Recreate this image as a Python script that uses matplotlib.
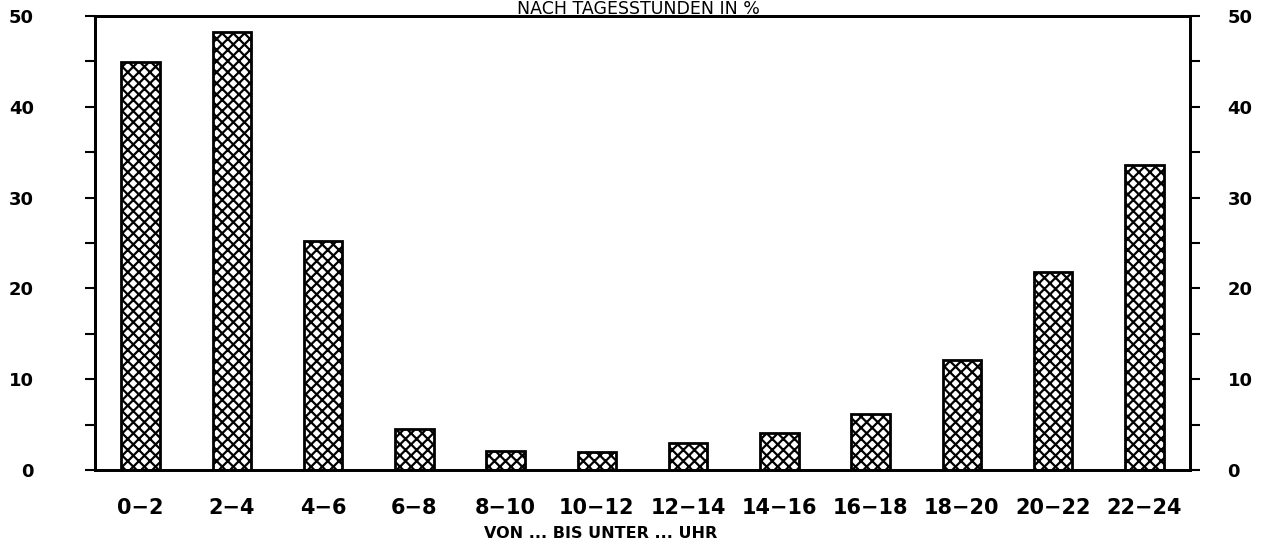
import matplotlib
matplotlib.use("Agg")
import matplotlib.pyplot as plt
from matplotlib.ticker import MultipleLocator

categories = ["0−2", "2−4", "4−6", "6−8", "8−10", "10−12", "12−14",
              "14−16", "16−18", "18−20", "20−22", "22−24"]
values = [44.9, 48.2, 25.2, 4.5, 2.1, 2.0, 3.0, 4.1, 6.2, 12.1, 21.8, 33.6]
yticks = [0, 10, 20, 30, 40, 50]
title = "NACH TAGESSTUNDEN IN %"
xlabel = "VON ... BIS UNTER ... UHR"

plt.rcParams['hatch.linewidth'] = 1.6
plt.rcParams['font.family'] = ['DejaVu Sans']

fig = plt.figure(figsize=(12.69, 5.45), dpi=100)
ax = fig.add_axes([95/1269, 1-470/545, (1190-95)/1269, (470-16)/545])

x = list(range(len(categories)))
ax.bar(x, values, width=0.42, color='white', edgecolor='black',
       linewidth=2, hatch='xxx')

ax.set_xlim(-0.5, len(categories) - 0.5)
ax.set_ylim(0, 50)
ax.set_xticks(x)
ax.set_xticklabels(categories, fontsize=15, fontweight='bold')
ax.tick_params(axis='x', length=0, pad=20)

ax.set_yticks(yticks)
ax.yaxis.set_minor_locator(MultipleLocator(5))
ax.tick_params(axis='y', which='both', direction='out', length=7, width=1.5,
               left=True, right=False, labelleft=True, labelright=False,
               labelsize=13)
ax.tick_params(axis='y', which='major', pad=37)
for lab in ax.get_yticklabels():
    lab.set_fontweight('bold')

ax2 = ax.twinx()
ax2.set_ylim(ax.get_ylim())
ax2.set_yticks(yticks)
ax2.yaxis.set_minor_locator(MultipleLocator(5))
ax2.tick_params(axis='y', which='both', direction='out', length=7, width=1.5,
                labelsize=13)
ax2.tick_params(axis='y', which='major', pad=20)
for lab in ax2.get_yticklabels():
    lab.set_fontweight('bold')

for a in (ax, ax2):
    for s in a.spines.values():
        s.set_linewidth(2)
        s.set_color('black')

fig.text(638/1269, 1-14/545, title, ha='center', va='baseline',
         fontsize=12.5)
fig.text(601/1269, 1-538/545, xlabel, ha='center', va='baseline',
         fontsize=11.5, fontweight='bold')

fig.savefig("out.png", dpi=100)
